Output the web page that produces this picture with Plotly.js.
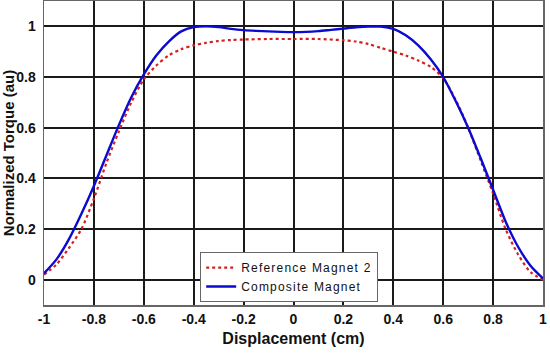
<!DOCTYPE html>
<html>
<head>
<meta charset="utf-8">
<script src="https://cdn.plot.ly/plotly-3.0.1.min.js"></script>
<style>html,body{margin:0;padding:0;background:#fff}#chart{width:550px;height:354px}
.legendtext{letter-spacing:1.2px}</style>
</head>
<body>
<div id="chart"></div>
<script>
var xRef = [-1,-0.95,-0.9,-0.85,-0.8,-0.75,-0.7,-0.65,-0.6,-0.55,-0.5,-0.45,-0.4,-0.35,-0.3,-0.25,-0.2,-0.1,0,0.1,0.2,0.25,0.3,0.35,0.4,0.45,0.5,0.55,0.6,0.65,0.7,0.75,0.8,0.85,0.9,0.95,1];
var yRef = [0.02,0.06,0.125,0.2,0.32,0.46,0.585,0.7,0.79,0.845,0.885,0.91,0.925,0.935,0.942,0.946,0.948,0.95,0.95,0.95,0.945,0.94,0.93,0.915,0.9,0.885,0.865,0.84,0.795,0.71,0.6,0.47,0.34,0.2,0.1,0.03,0.0];
var xComp = [-1,-0.95,-0.9,-0.85,-0.8,-0.75,-0.7,-0.65,-0.6,-0.55,-0.5,-0.45,-0.4,-0.35,-0.3,-0.25,-0.2,-0.15,-0.1,-0.05,0,0.05,0.1,0.15,0.2,0.25,0.3,0.35,0.4,0.45,0.5,0.55,0.6,0.65,0.7,0.75,0.8,0.85,0.9,0.95,1];
var yComp = [0.025,0.08,0.16,0.26,0.37,0.49,0.61,0.72,0.81,0.885,0.94,0.98,0.997,1.0,0.997,0.99,0.985,0.982,0.98,0.978,0.977,0.978,0.981,0.986,0.991,0.996,0.999,0.999,0.99,0.965,0.925,0.87,0.8,0.705,0.6,0.48,0.355,0.23,0.13,0.055,0.005];
var xTicks = [-1,-0.8,-0.6,-0.4,-0.2,0,0.2,0.4,0.6,0.8,1];
var xTickText = ['-1','-0.8','-0.6','-0.4','-0.2','0','0.2','0.4','0.6','0.8','1'];
var yTicks = [0,0.2,0.4,0.6,0.8,1];
var yTickText = ['0','0.2','0.4','0.6','0.8','1'];
var names = ['Reference Magnet 2','Composite Magnet'];

var traces = [
  {x: xRef, y: yRef, name: names[0], type: 'scatter', mode: 'lines', line: {color: '#d42020', width: 2.2, dash: 'dot', shape: 'spline', smoothing: 0.8}},
  {x: xComp, y: yComp, name: names[1], type: 'scatter', mode: 'lines', line: {color: '#0a0ad0', width: 2.4, shape: 'spline', smoothing: 0.8}}
];
var fontFam = 'Arial, "Liberation Sans", sans-serif';
var layout = {
  width: 550, height: 354,
  margin: {l: 44, r: 7, t: 1, b: 49},
  paper_bgcolor: '#fff', plot_bgcolor: '#fff',
  showlegend: true,
  legend: {x: 0.313, y: 0.092, xanchor: 'left', yanchor: 'middle', bgcolor: '#fff', bordercolor: '#666', borderwidth: 1,
           font: {family: fontFam, size: 12, color: '#111'}, tracegroupgap: 0, itemwidth: 30},
  xaxis: {range: [-1, 1], tickvals: xTicks, ticktext: xTickText, showgrid: true, gridcolor: '#1a1a1a', gridwidth: 2,
          zeroline: false, showline: true, mirror: true, linecolor: '#666', linewidth: 1.5, ticks: '', ticklabelstandoff: 1,
          tickfont: {family: fontFam, size: 14, weight: 'bold', color: '#111'},
          title: {text: 'Displacement (cm)', font: {family: fontFam, size: 16, weight: 'bold', color: '#111'}, standoff: 6}},
  yaxis: {range: [-0.1, 1.1], tickvals: yTicks, ticktext: yTickText, showgrid: true, gridcolor: '#1a1a1a', gridwidth: 2,
          zeroline: false, showline: true, mirror: true, linecolor: '#666', linewidth: 1.5, ticks: '', ticklabelstandoff: 4,
          tickfont: {family: fontFam, size: 14, weight: 'bold', color: '#111'},
          title: {text: 'Normalized Torque (au)', font: {family: fontFam, size: 15, weight: 'bold', color: '#111'}, standoff: 0}}
};
Plotly.newPlot('chart', traces, layout, {staticPlot: true, displayModeBar: false});
</script>
</body>
</html>
